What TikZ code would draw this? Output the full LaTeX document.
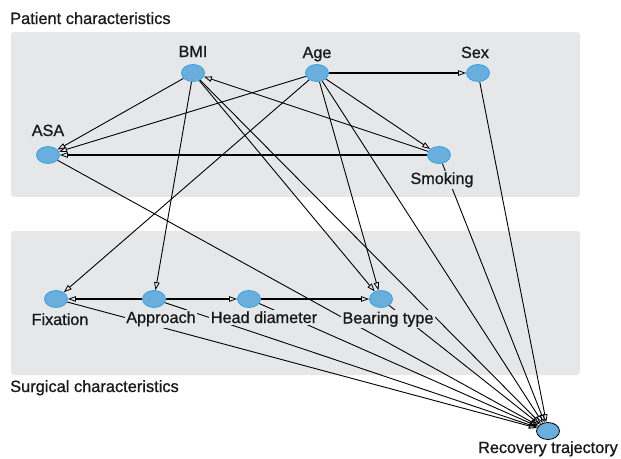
\documentclass[tikz,border=0pt]{standalone}
\usepackage{fontspec}
\setmainfont{Liberation Sans}
\newfontfamily\dagfont{Liberation Sans}[FakeBold=0.9]
\usetikzlibrary{arrows.meta,shapes.geometric}
\definecolor{boxgray}{HTML}{E6E7E9}
\definecolor{nodeblue}{HTML}{6AAEDE}
\definecolor{nodeborder}{HTML}{2EA6DF}
\begin{document}
\begin{tikzpicture}[x=1pt,y=-1pt,
  var/.style={ellipse, fill=nodeblue, draw=nodeborder, line width=0.8pt, minimum width=23pt, minimum height=17pt, inner sep=0pt},
  outvar/.style={var, draw=black},
  lbl/.style={font=\dagfont\fontsize{16.2}{18}\selectfont, text=black!90, inner sep=1.5pt, anchor=base, fill=boxgray},
  title/.style={font=\dagfont\fontsize{16.4}{18}\selectfont, text=black!90, inner sep=0pt, anchor=base west},
  grp/.style={fill=boxgray, rounded corners=3pt, draw=none},
  edge/.style={draw=black, line width=0.9pt, -{Triangle[open,length=8pt,width=5.5pt,line width=0.8pt]}},
  hedge/.style={edge, line width=1.5pt}
]
\useasboundingbox (0,0) rectangle (621,458);
% group boxes
\path[grp] (11,32) rectangle (580,197);
\path[grp] (11,231) rectangle (580,375);
\node[title] (tP) at (10,24) {Patient characteristics};
\node[title] (tS) at (10,392) {Surgical characteristics};
% node coordinates (drawn later)
\coordinate (cBMI) at (193,73);
\coordinate (cAge) at (317,73);
\coordinate (cSex) at (478,73);
\coordinate (cASA) at (48,155);
\coordinate (cSmk) at (439,155);
\coordinate (cFix) at (56,299);
\coordinate (cApp) at (154,299);
\coordinate (cHD) at (249,299);
\coordinate (cBT) at (381,299);
\coordinate (cRec) at (548,431);
% variable nodes (invisible pass for edge anchoring)
\node[var, draw=none, fill=none] (BMI) at (cBMI) {};
\node[var, draw=none, fill=none] (Age) at (cAge) {};
\node[var, draw=none, fill=none] (Sex) at (cSex) {};
\node[var, draw=none, fill=none] (ASA) at (cASA) {};
\node[var, draw=none, fill=none] (Smk) at (cSmk) {};
\node[var, draw=none, fill=none] (Fix) at (cFix) {};
\node[var, draw=none, fill=none] (App) at (cApp) {};
\node[var, draw=none, fill=none] (HD) at (cHD) {};
\node[var, draw=none, fill=none] (BT) at (cBT) {};
\node[var, draw=none, fill=none] (Rec) at (cRec) {};
% edges
\draw[edge] (BMI) -- (ASA);
\draw[edge] (Age) -- (ASA);
\draw[hedge] (Smk) -- (ASA);
\draw[edge] (Smk) -- (BMI);
\draw[edge] (Age) -- (Smk);
\draw[hedge] (Age) -- (Sex);
\draw[edge] (BMI) -- (App);
\draw[edge] (Age) -- (Fix);
\draw[edge] (BMI) -- (BT);
\draw[edge] (Age) -- (BT);
\draw[hedge] (HD) -- (BT);
\draw[hedge] (App) -- (Fix);
\draw[hedge] (App) -- (HD);
\foreach \s in {BMI,Age,Sex,ASA,Smk,Fix,App,HD,BT}
  \draw[edge] (\s) -- (Rec);
% labels
\node[lbl] (lBMI) at (193,57) {BMI};
\node[lbl] (lAge) at (317,58) {Age};
\node[lbl] (lSex) at (475,58) {Sex};
\node[lbl] (lASA) at (48,136) {ASA};
\node[lbl] (lSmk) at (442,184) {Smoking};
\node[lbl] (lFix) at (60,325) {Fixation};
\node[lbl] (lApp) at (161,323) {Approach};
\node[lbl] (lHD) at (264,323) {Head diameter};
\node[lbl] (lBT) at (388,323.5) {Bearing type};
\node[lbl, fill=white] (lRec) at (548,453) {Recovery trajectory};
% visible variable nodes
\foreach \n in {BMI,Age,Sex,ASA,Smk,Fix,App,HD,BT}
  \node[var] at (c\n) {};
\node[outvar] at (cRec) {};
\end{tikzpicture}
\end{document}
